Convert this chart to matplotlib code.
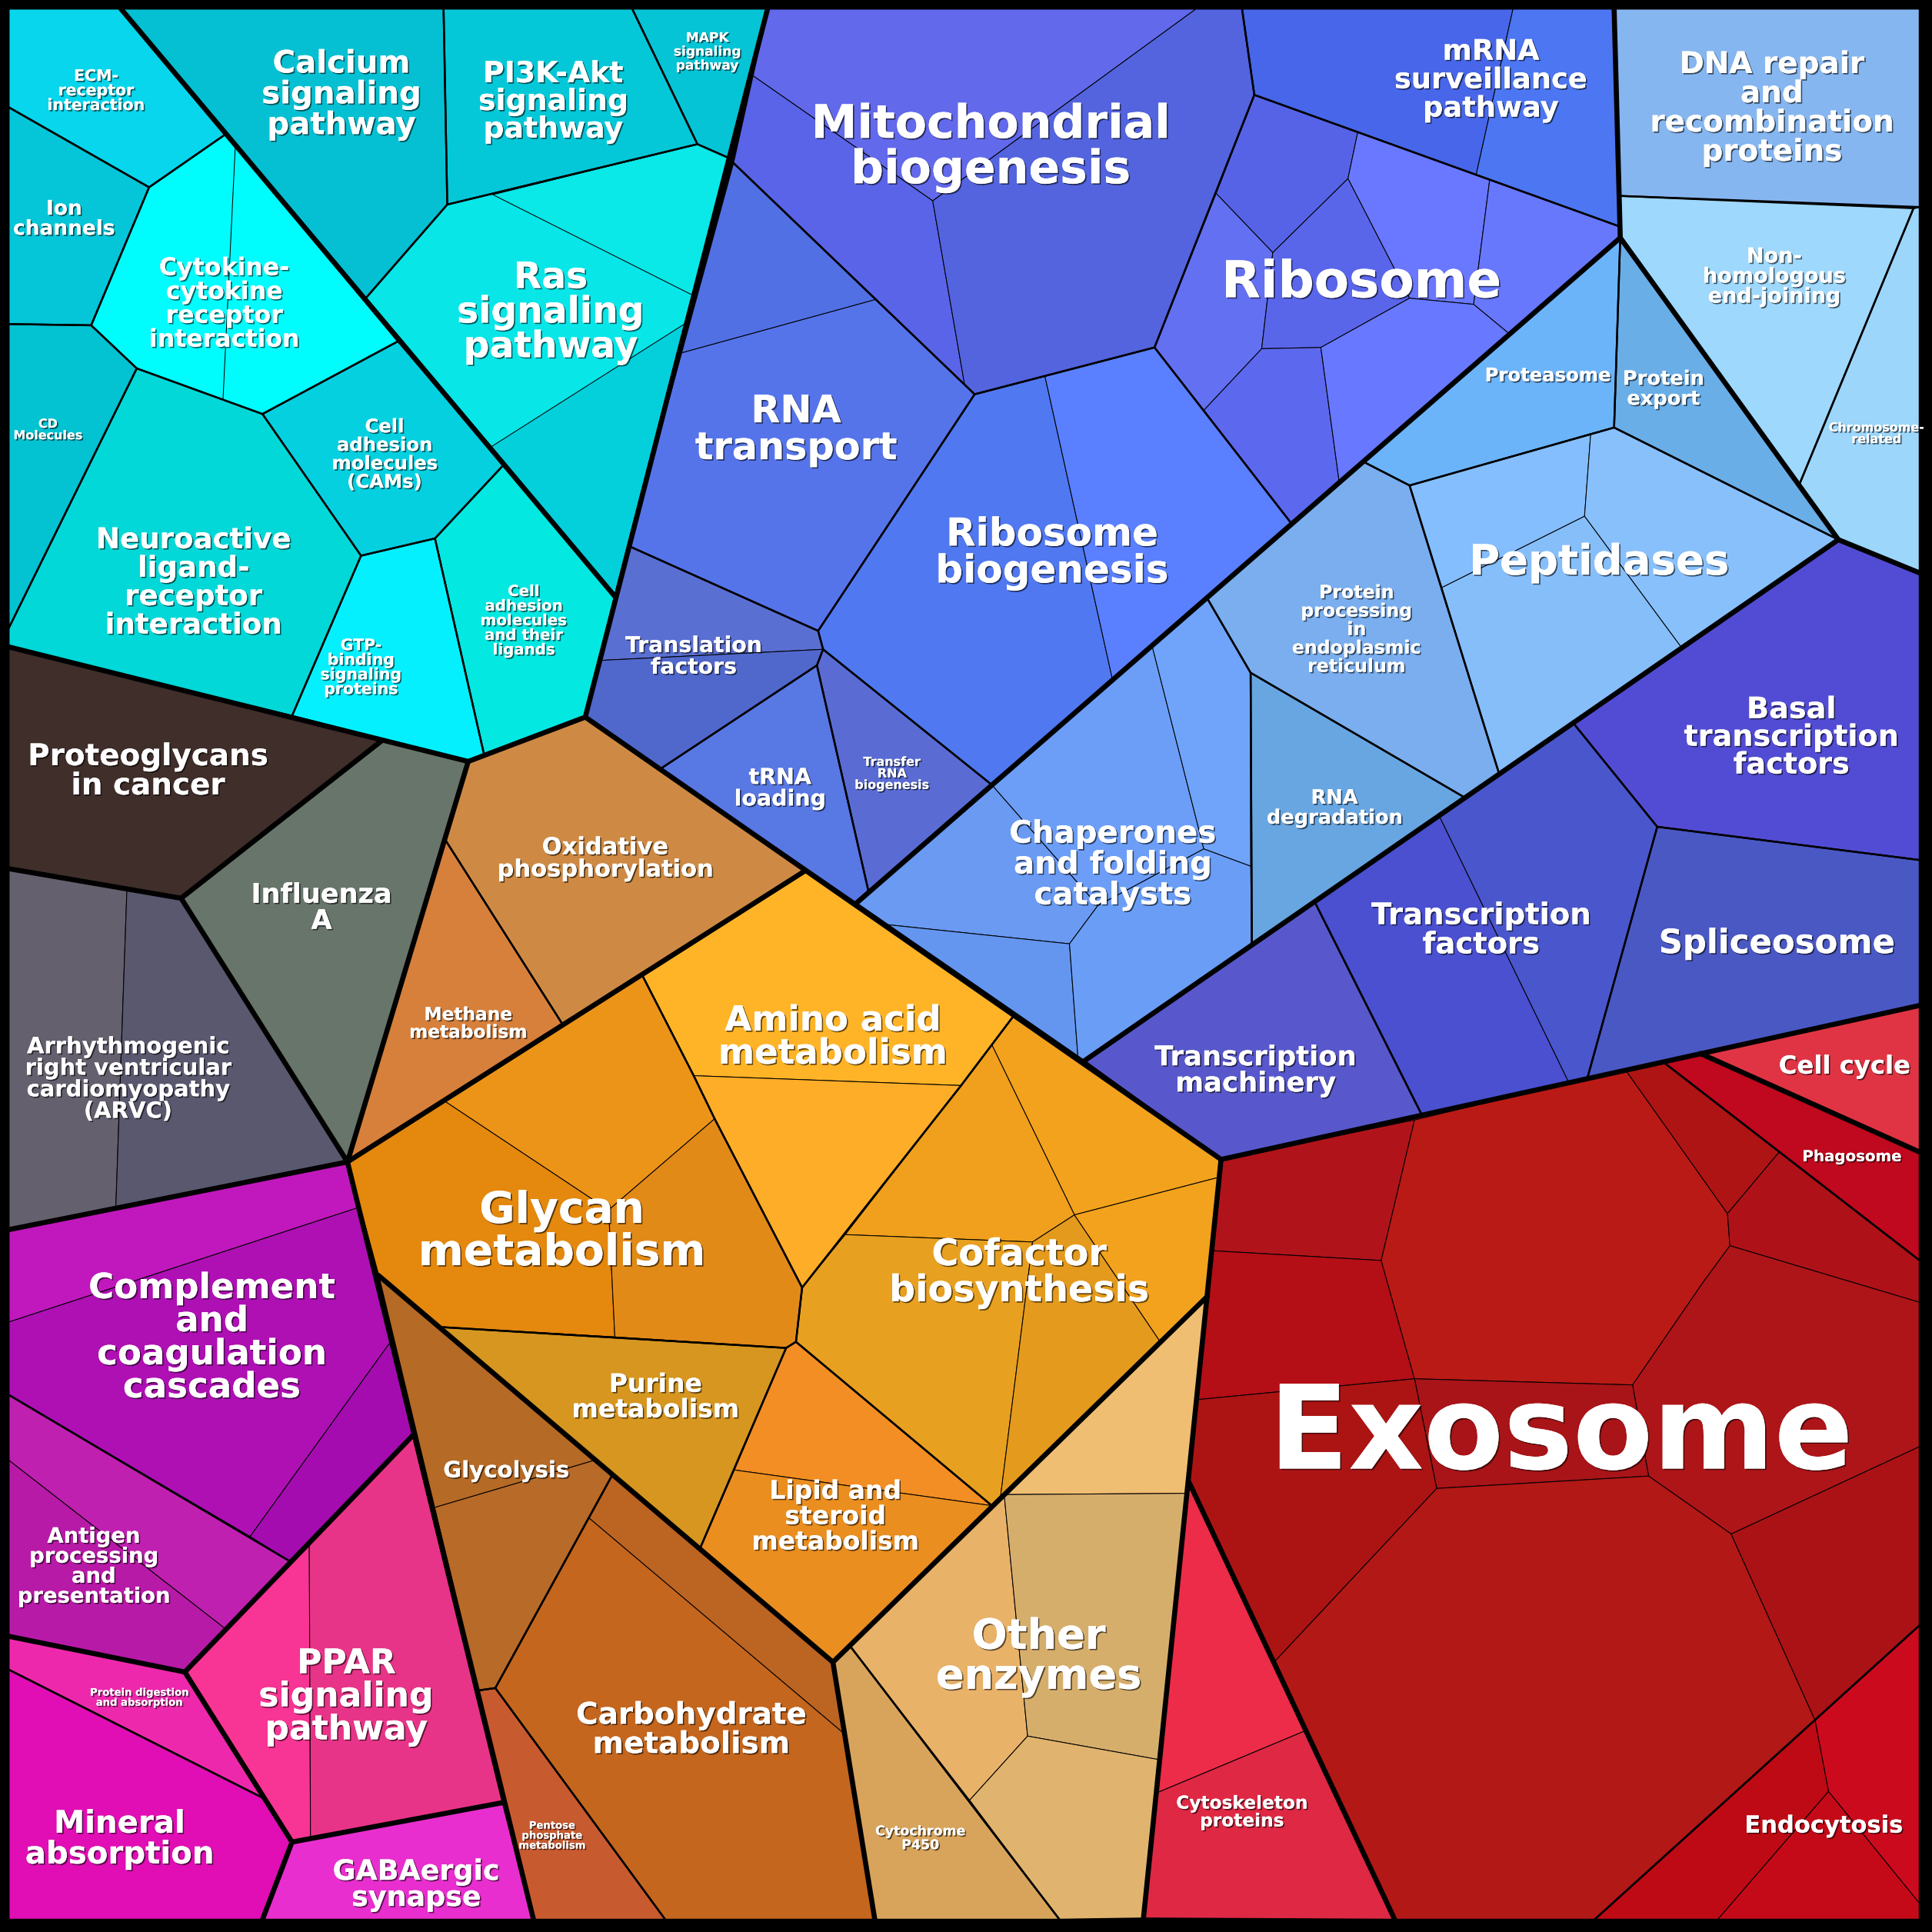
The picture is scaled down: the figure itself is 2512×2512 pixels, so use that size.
import matplotlib
matplotlib.use("Agg")
import matplotlib.pyplot as plt
from matplotlib.patches import Polygon
import matplotlib.patheffects as pe

plt.rcParams['font.family'] = ['DejaVu Sans']

# pathways (cell labels) and their fill colours
pathways = [
    "ECM-\nreceptor\ninteraction", "Ion\nchannels", "Cytokine-\ncytokine\nreceptor\ninteraction",
    "CD\nMolecules", "Neuroactive\nligand-\nreceptor\ninteraction", "Cell\nadhesion\nmolecules\n(CAMs)",
    "GTP-\nbinding\nsignaling\nproteins", "Cell\nadhesion\nmolecules\nand their\nligands",
    "Calcium\nsignaling\npathway", "PI3K-Akt\nsignaling\npathway", "MAPK\nsignaling\npathway",
    "Ras\nsignaling\npathway",
    "Mitochondrial\nbiogenesis", "mRNA\nsurveillance\npathway", "Ribosome", "RNA\ntransport",
    "Ribosome\nbiogenesis", "Translation\nfactors", "tRNA\nloading", "Transfer\nRNA\nbiogenesis",
    "Proteasome", "Protein\nexport", "Peptidases", "Protein\nprocessing\nin\nendoplasmic\nreticulum",
    "RNA\ndegradation", "Chaperones\nand folding\ncatalysts",
    "Basal\ntranscription\nfactors", "Spliceosome", "Transcription\nfactors", "Transcription\nmachinery",
    "DNA repair\nand\nrecombination\nproteins", "Non-\nhomologous\nend-joining", "Chromosome-\nrelated",
    "Oxidative\nphosphorylation", "Methane\nmetabolism",
    "Amino acid\nmetabolism", "Glycan\nmetabolism", "Cofactor\nbiosynthesis", "Purine\nmetabolism",
    "Lipid and\nsteroid\nmetabolism",
    "Glycolysis", "Carbohydrate\nmetabolism", "Pentose\nphosphate\nmetabolism",
    "Cytochrome\nP450", "Other\nenzymes",
    "Proteoglycans\nin cancer", "Influenza\nA", "Arrhythmogenic\nright ventricular\ncardiomyopathy\n(ARVC)",
    "Complement\nand\ncoagulation\ncascades", "Antigen\nprocessing\nand\npresentation",
    "PPAR\nsignaling\npathway", "Protein digestion\nand absorption", "Mineral\nabsorption",
    "GABAergic\nsynapse",
    "Cell cycle", "Phagosome", "Exosome", "Endocytosis", "Cytoskeleton\nproteins",
]

pathway_colors = [
    "#07D6EC", "#04C6D8", "#00FDFE", "#03C2D2", "#03D8D8", "#05D0E0", "#05F0FE", "#04E8E2",
    "#04C0D2", "#04C8D8", "#05C4D6", "#08E6E8",
    "#5A64E6", "#4866E9", "#5C68EE", "#5472E8", "#5078F0", "#5A6FD2", "#5878E4", "#5A6CD4",
    "#6CB4FA", "#6AAEE8", "#86BEFC", "#7AAEEE", "#68A6E2", "#6A9EF6",
    "#524CD4", "#4A58C4", "#4A52CE", "#5858CC",
    "#86B6F0", "#9ED8FC", "#9CD6FA",
    "#CE8A44", "#D6803C",
    "#FFB427", "#E88E14", "#F0A01C", "#D69620", "#EE8E22",
    "#B86A28", "#C4661E", "#C85A30",
    "#D8A45C", "#E4B46C",
    "#3F2E2A", "#68756A", "#5E5C6E",
    "#AE10B4", "#BC1EAC", "#EE3490", "#EE28AC", "#E00EB4", "#E82ECE",
    "#E03444", "#C0081E", "#B31815", "#C40A18", "#E42A46",
]

# ---- layout of the voronoi treemap (pixel space of a 1568 px square) ----
cell_shape = {
    "ECM-\nreceptor\ninteraction": [(7, 7), (98, 7), (183, 109), (121, 152), (7, 87)],
    "Ion\nchannels": [(7, 87), (121, 152), (74, 264), (7, 263)],
    "Cytokine-\ncytokine\nreceptor\ninteraction": [(121, 152), (183, 109), (323, 277), (213, 336), (111, 299), (74, 264)],
    "CD\nMolecules": [(7, 263), (74, 264), (111, 299), (7, 510)],
    "Neuroactive\nligand-\nreceptor\ninteraction": [(111, 299), (213, 336), (293, 451), (237, 581), (7, 525), (7, 510)],
    "Cell\nadhesion\nmolecules\n(CAMs)": [(213, 336), (323, 277), (409, 377), (353, 437), (293, 451)],
    "GTP-\nbinding\nsignaling\nproteins": [(293, 451), (353, 437), (393, 613), (380, 618), (237, 581)],
    "Cell\nadhesion\nmolecules\nand their\nligands": [(353, 437), (409, 377), (499, 484), (475, 582), (393, 613)],
    "Calcium\nsignaling\npathway": [(98, 7), (360, 7), (363, 166), (296, 243)],
    "PI3K-Akt\nsignaling\npathway": [(360, 7), (513, 7), (566, 117), (363, 166)],
    "MAPK\nsignaling\npathway": [(513, 7), (623, 7), (591, 128), (566, 117)],
    "Ras\nsignaling\npathway": [(363, 166), (566, 117), (591, 128), (499, 484), (296, 243)],
    "Mitochondrial\nbiogenesis": [(623, 7), (1008, 7), (1018, 77), (937, 282), (791, 320), (595, 132)],
    "mRNA\nsurveillance\npathway": [(1008, 7), (1310, 7), (1315, 184), (1018, 77)],
    "Ribosome": [(1018, 77), (1315, 184), (1315, 193), (1049, 426), (937, 282)],
    "RNA\ntransport": [(595, 132), (791, 320), (664, 512), (510, 443)],
    "Ribosome\nbiogenesis": [(791, 320), (937, 282), (1049, 426), (805, 637), (668, 527), (664, 512)],
    "Translation\nfactors": [(510, 443), (664, 512), (668, 527), (663, 540), (536, 624), (475, 582)],
    "tRNA\nloading": [(536, 624), (663, 540), (705, 724), (695, 733)],
    "Transfer\nRNA\nbiogenesis": [(663, 540), (668, 527), (805, 637), (705, 724)],
    "Proteasome": [(1315, 193), (1310, 347), (1144, 394), (1107, 375)],
    "Protein\nexport": [(1315, 193), (1492, 438), (1310, 347)],
    "Peptidases": [(1144, 394), (1310, 347), (1492, 438), (1217, 629)],
    "Protein\nprocessing\nin\nendoplasmic\nreticulum": [(980, 486), (1107, 375), (1144, 394), (1217, 629), (1190, 648), (1015, 546)],
    "RNA\ndegradation": [(1015, 546), (1190, 648), (1016, 767)],
    "Chaperones\nand folding\ncatalysts": [(695, 733), (980, 486), (1015, 546), (1016, 767), (880, 861)],
    "Basal\ntranscription\nfactors": [(1277, 587), (1492, 438), (1558, 465), (1558, 698), (1345, 671)],
    "Spliceosome": [(1345, 671), (1558, 698), (1558, 816), (1288, 876)],
    "Transcription\nfactors": [(1067, 732), (1277, 587), (1345, 671), (1288, 876), (1154, 905)],
    "Transcription\nmachinery": [(880, 861), (1067, 732), (1154, 905), (991, 941)],
    "DNA repair\nand\nrecombination\nproteins": [(1310, 7), (1558, 7), (1558, 168), (1315, 159)],
    "Non-\nhomologous\nend-joining": [(1315, 159), (1553, 169), (1460, 394), (1315, 193)],
    "Chromosome-\nrelated": [(1553, 169), (1558, 168), (1558, 465), (1492, 438), (1460, 394)],
    "Oxidative\nphosphorylation": [(380, 618), (475, 582), (653, 707), (457, 832), (361, 681)],
    "Methane\nmetabolism": [(361, 681), (457, 832), (282, 943)],
    "Amino acid\nmetabolism": [(521, 791), (653, 707), (823, 824), (780, 881), (651, 1045), (580, 908), (563, 873)],
    "Glycan\nmetabolism": [(282, 943), (521, 791), (563, 873), (580, 908), (651, 1045), (646, 1089), (638, 1094), (357, 1077), (307, 1035)],
    "Cofactor\nbiosynthesis": [(823, 824), (991, 941), (980, 1052), (805, 1222), (646, 1089), (651, 1045), (780, 881)],
    "Purine\nmetabolism": [(357, 1077), (638, 1094), (568, 1257)],
    "Lipid and\nsteroid\nmetabolism": [(638, 1094), (646, 1089), (805, 1222), (676, 1349), (568, 1257)],
    "Glycolysis": [(307, 1035), (497, 1197), (402, 1370), (388, 1372)],
    "Carbohydrate\nmetabolism": [(497, 1197), (676, 1349), (710, 1558), (540, 1558), (402, 1370)],
    "Pentose\nphosphate\nmetabolism": [(388, 1372), (402, 1370), (540, 1558), (433, 1558)],
    "Cytochrome\nP450": [(676, 1349), (690, 1336), (860, 1558), (710, 1558)],
    "Other\nenzymes": [(690, 1336), (980, 1052), (928, 1557), (860, 1558)],
    "Proteoglycans\nin cancer": [(7, 525), (310, 601), (147, 729), (7, 705)],
    "Influenza\nA": [(310, 601), (380, 618), (282, 943), (147, 729)],
    "Arrhythmogenic\nright ventricular\ncardiomyopathy\n(ARVC)": [(7, 705), (147, 729), (282, 943), (7, 998)],
    "Complement\nand\ncoagulation\ncascades": [(7, 998), (282, 943), (335, 1165), (235, 1267), (7, 1132)],
    "Antigen\nprocessing\nand\npresentation": [(7, 1132), (235, 1267), (150, 1357), (7, 1328)],
    "PPAR\nsignaling\npathway": [(150, 1357), (335, 1165), (408, 1463), (237, 1495)],
    "Protein digestion\nand absorption": [(7, 1328), (150, 1357), (213, 1459), (7, 1355)],
    "Mineral\nabsorption": [(7, 1355), (213, 1459), (237, 1495), (213, 1558), (7, 1558)],
    "GABAergic\nsynapse": [(237, 1495), (408, 1463), (433, 1558), (213, 1558)],
    "Cell cycle": [(1380, 855), (1558, 816), (1558, 935)],
    "Phagosome": [(1350, 862), (1380, 855), (1558, 935), (1558, 1023)],
    "Exosome": [(991, 941), (1350, 862), (1558, 1023), (1558, 1319), (1294, 1558), (1132, 1558), (965, 1203)],
    "Endocytosis": [(1294, 1558), (1558, 1319), (1558, 1558)],
    "Cytoskeleton\nproteins": [(965, 1203), (1132, 1558), (928, 1557)],
}

# proteins inside the pathway cells (thin outlines, own shade)
sub_cells = {
    "Ras\nsignaling\npathway": [
        ("#0AE8E8", [(400, 158), (566, 117), (591, 128), (563, 240)]),
        ("#04D0DC", [(398, 363), (557, 262), (499, 484)])],
    "Mitochondrial\nbiogenesis": [
        ("#6369EB", [(623, 7), (971, 7), (757, 163), (609, 60)]),
        ("#5A64E8", [(609, 60), (757, 163), (783, 313), (791, 320), (595, 132)]),
        ("#5364DE", [(971, 7), (1008, 7), (1018, 77), (937, 282), (791, 320), (783, 313), (757, 163)])],
    "mRNA\nsurveillance\npathway": [
        ("#4866E9", [(1008, 7), (1228, 7), (1198, 142), (1018, 77)]),
        ("#4C76F2", [(1228, 7), (1310, 7), (1315, 184), (1198, 142)])],
    "Ribosome": [
        ("#5663E6", [(1018, 77), (1102, 107), (1094, 145), (1033, 205), (987, 157)]),
        ("#6370F2", [(987, 157), (1033, 205), (1024, 283), (977, 333), (937, 282)]),
        ("#6A78FF", [(1094, 145), (1102, 107), (1209, 146), (1196, 247), (1144, 242)]),
        ("#5A66EA", [(1033, 205), (1094, 145), (1144, 242), (1072, 282), (1024, 283)]),
        ("#6878FC", [(1209, 146), (1315, 184), (1315, 193), (1225, 271), (1196, 247)]),
        ("#5C68EE", [(1024, 283), (1072, 282), (1087, 392), (1049, 426), (977, 333)]),
        ("#6878FF", [(1072, 282), (1144, 242), (1196, 247), (1225, 271), (1087, 392)])],
    "RNA\ntransport": [
        ("#5070E4", [(595, 132), (711, 243), (551, 287)]),
        ("#5674EA", [(551, 287), (711, 243), (791, 320), (664, 512), (510, 443)])],
    "Ribosome\nbiogenesis": [
        ("#5078F0", [(791, 320), (848, 305), (903, 552), (805, 637), (668, 527), (664, 512)]),
        ("#5A80FF", [(848, 305), (937, 282), (1049, 426), (903, 552)])],
    "Translation\nfactors": [
        ("#5A6FD2", [(510, 443), (664, 512), (668, 527), (487, 536)]),
        ("#5068CC", [(487, 536), (668, 527), (663, 540), (536, 624), (475, 582)])],
    "Peptidases": [
        ("#84BEFE", [(1144, 394), (1291, 352), (1286, 419), (1170, 477)]),
        ("#88C0FC", [(1291, 352), (1310, 347), (1492, 438), (1365, 526), (1286, 419)]),
        ("#86BEFA", [(1170, 477), (1286, 419), (1365, 526), (1217, 629)])],
    "Chaperones\nand folding\ncatalysts": [
        ("#6A9AF2", [(695, 733), (805, 637), (891, 735), (868, 766), (716, 750)]),
        ("#6496F0", [(716, 750), (868, 766), (875, 860)]),
        ("#6C9EF8", [(805, 637), (935, 524), (977, 689), (891, 735)]),
        ("#70A4FA", [(935, 524), (980, 486), (1015, 546), (1015, 703), (977, 689)]),
        ("#6A9EF6", [(891, 735), (977, 689), (1015, 703), (1016, 767), (880, 861), (875, 860), (868, 766)])],
    "Transcription\nfactors": [
        ("#4A50D0", [(1067, 732), (1168, 662), (1273, 878), (1154, 905)]),
        ("#4A56CC", [(1168, 662), (1277, 587), (1345, 671), (1288, 876), (1273, 878)])],
    "Amino acid\nmetabolism": [
        ("#FFB427", [(521, 791), (653, 707), (823, 824), (780, 881), (563, 873)]),
        ("#FDAD28", [(563, 873), (780, 881), (651, 1045), (580, 908)])],
    "Glycan\nmetabolism": [
        ("#E4880E", [(282, 943), (360, 893), (494, 982), (499, 1085), (357, 1077), (307, 1035)]),
        ("#EC9418", [(360, 893), (521, 791), (563, 873), (580, 908), (494, 982)]),
        ("#E28A18", [(494, 982), (580, 908), (651, 1045), (646, 1089), (638, 1094), (499, 1085)])],
    "Cofactor\nbiosynthesis": [
        ("#F2A21C", [(823, 824), (991, 941), (991, 955), (872, 986), (805, 848)]),
        ("#F0A01C", [(805, 848), (872, 986), (838, 1008), (686, 1002), (780, 881)]),
        ("#E8A020", [(686, 1002), (838, 1008), (812, 1215), (805, 1222), (646, 1089), (651, 1045)]),
        ("#E49A1C", [(838, 1008), (872, 986), (941, 1088), (812, 1215)]),
        ("#F2A21C", [(872, 986), (991, 955), (980, 1052), (941, 1088)])],
    "Lipid and\nsteroid\nmetabolism": [
        ("#F28E24", [(638, 1094), (646, 1089), (805, 1222), (596, 1193)]),
        ("#EA8E20", [(596, 1193), (805, 1222), (676, 1349), (568, 1257)])],
    "Glycolysis": [
        ("#B56A26", [(307, 1035), (483, 1185), (351, 1224)]),
        ("#B86A28", [(351, 1224), (483, 1185), (497, 1197), (402, 1370), (388, 1372)])],
    "Carbohydrate\nmetabolism": [
        ("#BC6422", [(497, 1197), (676, 1349), (685, 1407), (478, 1232)]),
        ("#C4661E", [(478, 1232), (685, 1407), (710, 1558), (540, 1558), (402, 1370)])],
    "Other\nenzymes": [
        ("#F0BE72", [(815, 1213), (980, 1052), (963, 1212)]),
        ("#E8B268", [(690, 1336), (815, 1213), (834, 1409), (787, 1461)]),
        ("#D6AE6C", [(815, 1213), (963, 1212), (940, 1428), (834, 1409)]),
        ("#E0B46E", [(787, 1461), (834, 1409), (940, 1428), (928, 1557), (860, 1558)])],
    "Arrhythmogenic\nright ventricular\ncardiomyopathy\n(ARVC)": [
        ("#64606E", [(7, 705), (103, 722), (94, 980), (7, 998)]),
        ("#5A586E", [(103, 722), (147, 729), (282, 943), (94, 980)])],
    "Complement\nand\ncoagulation\ncascades": [
        ("#C018BC", [(7, 998), (282, 943), (291, 980), (7, 1073)]),
        ("#AE10B4", [(7, 1073), (291, 980), (317, 1089), (203, 1247), (7, 1132)]),
        ("#A40CB0", [(317, 1089), (335, 1165), (235, 1267), (203, 1247)])],
    "Antigen\nprocessing\nand\npresentation": [
        ("#C020B0", [(7, 1132), (235, 1267), (183, 1322), (7, 1185)]),
        ("#B81AA8", [(7, 1185), (183, 1322), (150, 1357), (7, 1328)])],
    "PPAR\nsignaling\npathway": [
        ("#F83494", [(150, 1357), (251, 1252), (252, 1491), (237, 1495)]),
        ("#E83488", [(251, 1252), (335, 1165), (408, 1463), (252, 1491)])],
    "Exosome": [
        ("#B0141A", [(991, 941), (1148, 909), (1121, 1023), (983, 1015)]),
        ("#B40E16", [(983, 1015), (1121, 1023), (1148, 1119), (971, 1136)]),
        ("#BA1A16", [(1148, 909), (1319, 868), (1402, 985), (1404, 1011), (1382, 1041), (1325, 1124), (1148, 1119), (1121, 1023)]),
        ("#AE1414", [(1319, 868), (1350, 862), (1444, 935), (1402, 985)]),
        ("#AE1218", [(1402, 985), (1444, 935), (1558, 1023), (1558, 1057), (1404, 1011)]),
        ("#AE1518", [(1404, 1011), (1558, 1057), (1558, 1174), (1405, 1245), (1338, 1198), (1325, 1124), (1382, 1041)]),
        ("#A81418", [(1148, 1119), (1325, 1124), (1338, 1198), (1166, 1208)]),
        ("#AC1414", [(971, 1136), (1148, 1119), (1166, 1208), (1035, 1348), (965, 1203)]),
        ("#B21816", [(1166, 1208), (1338, 1198), (1405, 1245), (1473, 1396), (1294, 1558), (1132, 1558), (1035, 1348)]),
        ("#AA1216", [(1405, 1245), (1558, 1174), (1558, 1319), (1473, 1396)])],
    "Endocytosis": [
        ("#CC0A1E", [(1473, 1396), (1558, 1319), (1558, 1545), (1484, 1454)]),
        ("#BE0A14", [(1294, 1558), (1473, 1396), (1484, 1454), (1394, 1558)]),
        ("#C40A18", [(1394, 1558), (1484, 1454), (1558, 1545), (1558, 1558)])],
    "Cytoskeleton\nproteins": [
        ("#EC2C48", [(965, 1203), (1061, 1404), (939, 1455)]),
        ("#DE2844", [(939, 1455), (1061, 1404), (1132, 1558), (928, 1557)])],
}

thin_lines = [[(191, 118), (181, 324)]]

# borders between the top level categories
thick_lines = [
    [(7, 525), (380, 618), (475, 582)],
    [(623, 7), (475, 582)],
    [(98, 7), (499, 484)],
    [(475, 582), (991, 941)],
    [(695, 733), (1315, 193)],
    [(1310, 7), (1315, 193), (1492, 438), (1558, 465)],
    [(1492, 438), (880, 861)],
    [(991, 941), (1558, 816)],
    [(991, 941), (928, 1557)],
    [(380, 618), (282, 943), (433, 1558)],
    [(282, 943), (653, 707)],
    [(980, 1052), (676, 1349), (710, 1558)],
    [(307, 1035), (676, 1349)],
    [(7, 998), (282, 943)],
    [(310, 601), (147, 729), (282, 943)],
    [(7, 705), (147, 729)],
    [(335, 1165), (150, 1357), (7, 1328)],
    [(150, 1357), (237, 1495), (408, 1463)],
    [(237, 1495), (213, 1558)],
    [(1380, 855), (1558, 935)],
    [(965, 1203), (1132, 1558)],
]

# label anchor and font size (pt)
label_at = {
    "ECM-\nreceptor\ninteraction": (78, 74, 5.9),
    "Ion\nchannels": (52, 178, 7.6),
    "Cytokine-\ncytokine\nreceptor\ninteraction": (182, 247, 9.1),
    "CD\nMolecules": (39, 349, 4.6),
    "Neuroactive\nligand-\nreceptor\ninteraction": (157, 473, 10.7),
    "Cell\nadhesion\nmolecules\n(CAMs)": (312, 369, 7.0),
    "GTP-\nbinding\nsignaling\nproteins": (293, 542, 5.9),
    "Cell\nadhesion\nmolecules\nand their\nligands": (425, 504, 5.7),
    "Calcium\nsignaling\npathway": (277, 77, 11.6),
    "PI3K-Akt\nsignaling\npathway": (449, 83, 10.9),
    "MAPK\nsignaling\npathway": (574, 42, 4.9),
    "Ras\nsignaling\npathway": (447, 254, 13.6),
    "Mitochondrial\nbiogenesis": (804, 120, 17.3),
    "mRNA\nsurveillance\npathway": (1210, 65, 10.6),
    "Ribosome": (1105, 230, 19.0),
    "RNA\ntransport": (646, 349, 14.2),
    "Ribosome\nbiogenesis": (854, 449, 14.4),
    "Translation\nfactors": (563, 533, 8.15),
    "tRNA\nloading": (633, 640, 8.2),
    "Transfer\nRNA\nbiogenesis": (724, 628, 4.6),
    "Proteasome": (1256, 305, 7.0),
    "Protein\nexport": (1350, 316, 7.4),
    "Peptidases": (1298, 457, 15.7),
    "Protein\nprocessing\nin\nendoplasmic\nreticulum": (1101, 511, 6.8),
    "RNA\ndegradation": (1083, 656, 7.4),
    "Chaperones\nand folding\ncatalysts": (903, 702, 11.6),
    "Basal\ntranscription\nfactors": (1454, 599, 11.0),
    "Spliceosome": (1442, 766, 12.5),
    "Transcription\nfactors": (1202, 755, 11.1),
    "Transcription\nmachinery": (1019, 869, 10.2),
    "DNA repair\nand\nrecombination\nproteins": (1438, 88, 11.2),
    "Non-\nhomologous\nend-joining": (1440, 225, 7.8),
    "Chromosome-\nrelated": (1523, 352, 4.6),
    "Oxidative\nphosphorylation": (491, 697, 8.8),
    "Methane\nmetabolism": (380, 831, 6.7),
    "Amino acid\nmetabolism": (676, 842, 13.0),
    "Glycan\nmetabolism": (456, 1000, 16.3),
    "Cofactor\nbiosynthesis": (827, 1033, 13.7),
    "Purine\nmetabolism": (532, 1134, 9.5),
    "Lipid and\nsteroid\nmetabolism": (678, 1231, 9.5),
    "Glycolysis": (411, 1194, 8.4),
    "Carbohydrate\nmetabolism": (561, 1404, 11.2),
    "Pentose\nphosphate\nmetabolism": (448, 1490, 3.8),
    "Cytochrome\nP450": (747, 1492, 5.0),
    "Other\nenzymes": (843, 1345, 15.6),
    "Proteoglycans\nin cancer": (120, 626, 11.2),
    "Influenza\nA": (261, 737, 10.1),
    "Arrhythmogenic\nright ventricular\ncardiomyopathy\n(ARVC)": (104, 876, 8.35),
    "Complement\nand\ncoagulation\ncascades": (172, 1086, 13.0),
    "Antigen\nprocessing\nand\npresentation": (76, 1272, 7.9),
    "PPAR\nsignaling\npathway": (281, 1377, 12.7),
    "Protein digestion\nand absorption": (113, 1378, 3.8),
    "Mineral\nabsorption": (97, 1493, 11.6),
    "GABAergic\nsynapse": (338, 1530, 10.5),
    "Cell cycle": (1497, 866, 9.3),
    "Phagosome": (1503, 939, 5.7),
    "Exosome": (1267, 1166, 43.6),
    "Endocytosis": (1480, 1482, 8.8),
    "Cytoskeleton\nproteins": (1008, 1471, 6.7),
}

THIN, MEDIUM, THICK = 0.3, 0.7, 1.9

fig = plt.figure(figsize=(2512 / 250, 2512 / 250), dpi=250, facecolor='black')
ax = fig.add_axes([0, 0, 1, 1])
ax.set_xlim(0, 1568)
ax.set_ylim(1568, 0)
ax.axis('off')

# cell fills
for name, color in zip(pathways, pathway_colors):
    ax.add_patch(Polygon(cell_shape[name], closed=True, facecolor=color,
                         edgecolor=color, linewidth=0.3, zorder=1))

# sub cells
for name, subs in sub_cells.items():
    for color, poly in subs:
        ax.add_patch(Polygon(poly, closed=True, facecolor=color, edgecolor='black',
                             linewidth=THIN, joinstyle='round', zorder=2))
for seg in thin_lines:
    xs, ys = zip(*seg)
    ax.plot(xs, ys, color='black', lw=THIN, zorder=2)

# cell outlines
for name in pathways:
    ax.add_patch(Polygon(cell_shape[name], closed=True, facecolor='none', edgecolor='black',
                         linewidth=MEDIUM, joinstyle='round', zorder=3))

for line in thick_lines:
    xs, ys = zip(*line)
    ax.plot(xs, ys, color='black', lw=THICK, solid_capstyle='round',
            solid_joinstyle='round', zorder=4)

shadow = [pe.withSimplePatchShadow(offset=(0.5, -0.5), shadow_rgbFace='black', alpha=0.6),
          pe.Normal()]
for name in pathways:
    x, y, fs = label_at[name]
    ax.text(x, y, name, ha='center', va='center', multialignment='center',
            fontsize=fs, fontweight='bold', color='white', linespacing=1.0,
            path_effects=shadow, zorder=5)

fig.savefig('out.png', dpi=250, facecolor='black')
